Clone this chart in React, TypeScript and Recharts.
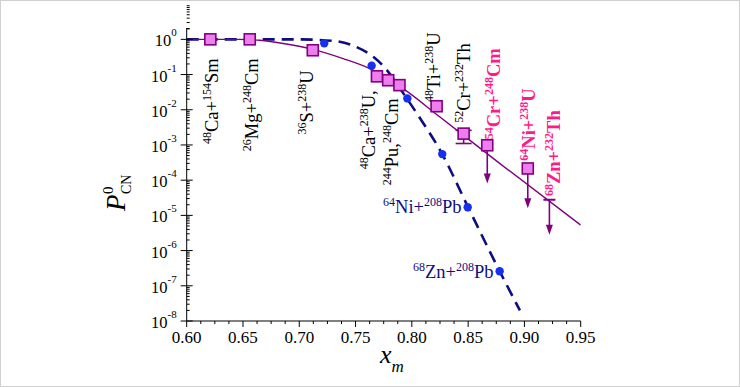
import React from "react";
import { ComposedChart, Line, Scatter, XAxis, YAxis, ReferenceDot, ReferenceLine, ErrorBar } from "recharts";

const FONT = '"Liberation Serif", "Times New Roman", serif';
const PURPLE = "#800080";
const NAVY = "#0d0d80";
const PINK = "#ff1a8c";

// measured P_CN (squares)
const expX = [0.621, 0.656, 0.712, 0.769, 0.779, 0.789, 0.822, 0.867, 0.903];
const expY = [1.0, 1.0, 0.49, 0.089, 0.069, 0.05, 0.0126, 0.00098, 0.000215];

// 52Cr+232Th with error bar
const errX = [0.846];
const errY = [0.0021];
const errLow = [0.001];
const errHigh = [0.0005];

// upper limits (arrows)
const limX = [0.867, 0.903, 0.9222];
const limY = [0.00098, 0.000215, 2.8e-5];
const limTip = [8.1e-5, 1.6e-5, 2.8e-6];

// cold fusion points (blue dots)
const dotX = [0.7222, 0.7643, 0.796, 0.827, 0.8496, 0.878];
const dotY = [0.77, 0.178, 0.021, 0.00055, 1.7e-5, 2.6e-7];

// fit curve (solid purple)
const fitX = [0.6, 0.647, 0.665, 0.687, 0.7095, 0.739, 0.7627, 0.7895, 0.825, 0.878, 0.95];
const fitY = [1, 1, 0.94, 0.75, 0.545, 0.283, 0.147, 0.046, 0.0062, 3.0e-4, 5.3e-6];

// dashed navy curve
const dashX = [0.6, 0.7, 0.733, 0.751, 0.766, 0.778, 0.7895, 0.8055, 0.827, 0.85, 0.878, 0.896];
const dashY = [1, 1, 0.88, 0.6, 0.315, 0.132, 0.04, 0.007, 5.5e-4, 1.7e-5, 2.6e-7, 2e-8];

const xMajor = [0.6, 0.65, 0.7, 0.75, 0.8, 0.85, 0.9, 0.95];

// reaction labels: "^" marks a superscript token
const vLabels = [
  { text: "^48 Ca+ ^154 Sm", x: 0.6278, y: 0.289, color: "#000", bold: false },
  { text: "^26 Mg+ ^248 Cm", x: 0.6633, y: 0.289, color: "#000", bold: false },
  { text: "^36 S+ ^238 U", x: 0.7122, y: 0.132, color: "#000", bold: false },
  { text: "^48 Ca+ ^238 U,", x: 0.7673, y: 0.0357, color: "#000", bold: false },
  { text: "^244 Pu, ^248 Cm", x: 0.7877, y: 0.0212, color: "#000", bold: false },
  { text: "^48 Ti+ ^238 U", x: 0.825, y: 1.58, color: "#000", bold: false },
  { text: "^52 Cr+ ^232 Th", x: 0.8516, y: 0.77, color: "#000", bold: false },
  { text: "^54 Cr+ ^248 Cm", x: 0.8782, y: 0.556, color: PINK, bold: true },
  { text: "^64 Ni+ ^238 U", x: 0.9093, y: 0.0407, color: PINK, bold: true },
  { text: "^68 Zn+ ^232 Th", x: 0.9315, y: 0.0097, color: PINK, bold: true },
];
const hLabels = [
  { text: "^64 Ni+ ^208 Pb", x: 0.7744, y: 1.16e-5 },
  { text: "^68 Zn+ ^208 Pb", x: 0.801, y: 1.66e-7 },
];

const expData = expX.map((x, i) => ({ x, y: expY[i] }));
const errData = errX.map((x, i) => ({ x, y: errY[i], err: [errLow[i], errHigh[i]] }));
const limData = limX.map((x, i) => ({ x, y: limTip[i] }));
const capData = [{ x: limX[2], y: limY[2] }];
const dotData = dotX.map((x, i) => ({ x, y: dotY[i] }));
const fitData = fitX.map((x, i) => ({ x, y: fitY[i] }));
const dashData = dashX.map((x, i) => ({ x, y: dashY[i] }));

const xTicks: number[] = [];
for (let i = 0; i <= 28; i++) xTicks.push(+(0.6 + i * 0.0125).toFixed(4));
const yTicks: number[] = [];
for (let e = -8; e <= 0; e++) for (let m = 1; m <= 9; m++) yTicks.push(m * Math.pow(10, e));
yTicks.push(2);

const isMajorX = (v: number) => xMajor.some((m) => Math.abs(m - v) < 1e-6);
const isMajorY = (v: number) => Math.abs(Math.log10(v) - Math.round(Math.log10(v))) < 1e-6;

const parts = (s: string) =>
  s.split(" ").map((t, i) =>
    t.startsWith("^") ? (
      <tspan key={i} fontSize={12} dy={-7}>{t.slice(1)}</tspan>
    ) : (
      <tspan key={i} dy={7}>{t}</tspan>
    )
  );

const BottomTick = ({ x, y, payload }: any) => {
  const major = isMajorX(payload.value);
  return (
    <g>
      <line x1={x} x2={x} y1={y} y2={y + (major ? 6 : 3)} stroke="#000" />
      {major && (
        <text x={x} y={y + 22} textAnchor="middle" fontSize={17} fontFamily={FONT} fill="#000">
          {payload.value.toFixed(2)}
        </text>
      )}
    </g>
  );
};

const TopTick = ({ x, y, payload }: any) => (
  <line x1={x} x2={x} y1={y} y2={y + (isMajorX(payload.value) ? 6 : 3)} stroke="#000" />
);

const LeftTick = ({ x, y, payload }: any) => {
  const v = payload.value;
  if (!isMajorY(v)) return <line x1={x} x2={x + 3} y1={y} y2={y} stroke="#000" />;
  const e = Math.round(Math.log10(v));
  return (
    <g>
      <line x1={x - 6} x2={x + 6} y1={y} y2={y} stroke="#000" />
      <text x={x - 10} y={y + 7} textAnchor="end" fontSize={16.5} fontFamily={FONT} fill="#000">
        10<tspan fontSize={11} dy={-10}>{e === 0 ? "0" : "-" + Math.abs(e)}</tspan>
      </text>
    </g>
  );
};

const RightTick = ({ x, y, payload }: any) => (
  <line x1={x - (isMajorY(payload.value) ? 6 : 3)} x2={x} y1={y} y2={y} stroke="#000" />
);

const Square = ({ cx, cy }: any) => (
  <rect x={cx - 5.5} y={cy - 5.5} width={11} height={11} fill="#ee7dee" stroke={PURPLE} strokeWidth={1.6} />
);
const ArrowHead = ({ cx, cy }: any) => (
  <path d={`M${cx - 3.5},${cy - 10} L${cx + 3.5},${cy - 10} L${cx},${cy} Z`} fill={PURPLE} />
);
const Cap = ({ cx, cy }: any) => (
  <line x1={cx - 6} x2={cx + 6} y1={cy} y2={cy} stroke={PURPLE} strokeWidth={2} />
);
const BlueDot = ({ cx, cy }: any) => <circle cx={cx} cy={cy} r={4.2} fill="#1530f0" />;

export default function App() {
  return (
    <div style={{ position: "absolute", left: 0, top: 0, width: 740, height: 387, background: "#fff" }}>
      <ComposedChart width={740} height={387} margin={{ top: 28, right: 159.3, bottom: 26, left: 106.7 }}>
        <XAxis
          type="number"
          dataKey="x"
          domain={[0.6, 0.95]}
          ticks={xTicks}
          interval={0}
          allowDataOverflow
          height={40}
          tickSize={0}
          tickMargin={0}
          tickLine={false}
          tick={<BottomTick />}
          axisLine={{ stroke: "#000" }}
        />
        <XAxis
          xAxisId="t"
          orientation="top"
          type="number"
          dataKey="x"
          domain={[0.6, 0.95]}
          ticks={xTicks}
          interval={0}
          allowDataOverflow
          height={0}
          tickSize={0}
          tickMargin={0}
          tickLine={false}
          tick={<TopTick />}
          axisLine={{ stroke: "#000" }}
        />
        <YAxis
          type="number"
          scale="log"
          domain={[1e-8, 2.1]}
          ticks={yTicks}
          interval={0}
          allowDataOverflow
          width={80}
          tickSize={0}
          tickMargin={0}
          tickLine={false}
          tick={<LeftTick />}
          axisLine={{ stroke: "#000" }}
        />
        <YAxis
          yAxisId="r"
          orientation="right"
          type="number"
          scale="log"
          domain={[1e-8, 2.1]}
          ticks={yTicks}
          interval={0}
          allowDataOverflow
          width={0}
          tickSize={0}
          tickMargin={0}
          tickLine={false}
          tick={<RightTick />}
          axisLine={{ stroke: "#000" }}
        />

        <Line data={dashData} dataKey="y" type="monotone" stroke={NAVY} strokeWidth={2.6} strokeDasharray="12 7" dot={false} isAnimationActive={false} />
        <Line data={fitData} dataKey="y" type="monotone" stroke={PURPLE} strokeWidth={1.4} dot={false} isAnimationActive={false} />

        {limX.map((x, i) => (
          <ReferenceLine key={i} segment={[{ x, y: limY[i] }, { x, y: limTip[i] * 1.3 }]} stroke={PURPLE} strokeWidth={1.6} />
        ))}

        <Scatter data={dotData} dataKey="y" shape={<BlueDot />} isAnimationActive={false} />
        <Scatter data={errData} dataKey="y" shape={<Square />} isAnimationActive={false}>
          <ErrorBar dataKey="err" direction="y" width={8} stroke={PURPLE} strokeWidth={1.6} />
        </Scatter>
        <Scatter data={expData} dataKey="y" shape={<Square />} isAnimationActive={false} />
        <Scatter data={limData} dataKey="y" shape={<ArrowHead />} isAnimationActive={false} />
        <Scatter data={capData} dataKey="y" shape={<Cap />} isAnimationActive={false} />

        {vLabels.map((l, i) => (
          <ReferenceDot
            key={"v" + i}
            x={l.x}
            y={l.y}
            r={0}
            shape={({ cx, cy }: any) => (
              <text
                x={cx}
                y={cy}
                transform={`rotate(-90 ${cx} ${cy})`}
                textAnchor="end"
                fontSize={18.5}
                fontFamily={FONT}
                fontWeight={l.bold ? "bold" : "normal"}
                fill={l.color}
              >
                {parts(l.text)}
              </text>
            )}
          />
        ))}
        {hLabels.map((l, i) => (
          <ReferenceDot
            key={"h" + i}
            x={l.x}
            y={l.y}
            r={0}
            shape={({ cx, cy }: any) => (
              <text x={cx} y={cy} fontSize={18.5} fontFamily={FONT} fill={NAVY}>
                {parts(l.text)}
              </text>
            )}
          />
        ))}
      </ComposedChart>
      <svg width={740} height={387} style={{ position: "absolute", left: 0, top: 0, pointerEvents: "none" }}>
        <rect x={0.5} y={0.5} width={739} height={386} fill="none" stroke="#d0d0d0" />
        <text x={380} y={363} fontFamily={FONT} fontStyle="italic" fontSize={26} fill="#000">
          x<tspan fontSize={17} dy={9}>m</tspan>
        </text>
        <g transform="translate(125,211) rotate(-90)" fontFamily={FONT} fill="#000">
          <text x={0} y={0} fontStyle="italic" fontSize={27}>P</text>
          <text x={17} y={-12} fontSize={15}>0</text>
          <text x={17} y={6} fontSize={14}>CN</text>
        </g>
      </svg>
    </div>
  );
}
